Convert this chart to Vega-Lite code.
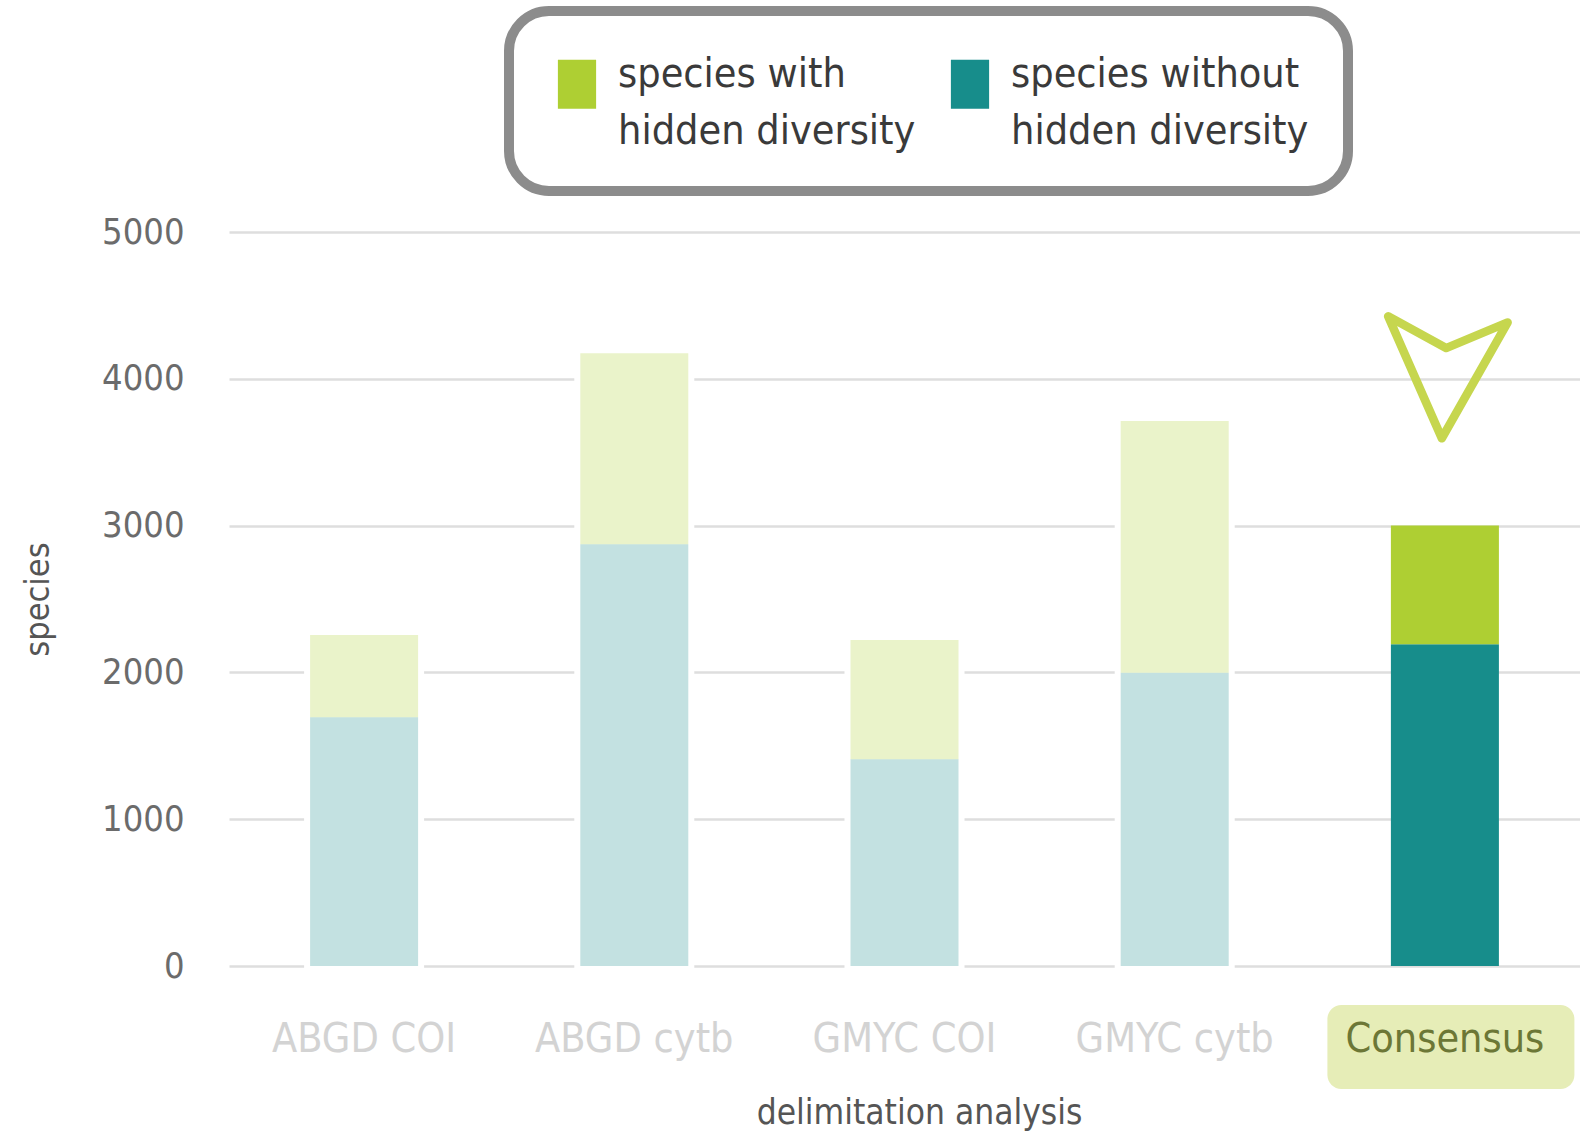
{
  "$schema": "https://vega.github.io/schema/vega-lite/v6.json",
  "width": 1351,
  "height": 734,
  "autosize": {"type": "none"},
  "padding": {"left": 229, "top": 232, "right": 0, "bottom": 170},
  "background": "white",
  "config": {
    "font": "DejaVu Sans Condensed, Lato, sans-serif",
    "view": {"stroke": null},
    "axis": {"domain": false, "ticks": false, "tickSize": 0},
    "axisY": {
      "grid": true,
      "gridColor": "#dedede",
      "gridWidth": 2.5,
      "tickCount": 5,
      "format": "d",
      "labelFontSize": 36,
      "labelColor": "#6b6b6b",
      "labelPadding": 45,
      "titleFontSize": 34,
      "titleColor": "#555555",
      "titleFontWeight": "normal",
      "titlePadding": 46
    },
    "axisX": {
      "grid": false,
      "labelFontSize": 41,
      "labelAngle": 0,
      "labelLimit": 400,
      "labelPadding": 85,
      "labelBaseline": "alphabetic",
      "titleFontSize": 35,
      "titleColor": "#555555",
      "titleFontWeight": "normal",
      "titleBaseline": "alphabetic",
      "titlePadding": 64,
      "titleX": 690
    }
  },
  "datasets": {
    "counts": [
      {"method": "ABGD COI", "group": "species without hidden diversity", "count": 1694},
      {"method": "ABGD COI", "group": "species with hidden diversity", "count": 561},
      {"method": "ABGD cytb", "group": "species without hidden diversity", "count": 2873},
      {"method": "ABGD cytb", "group": "species with hidden diversity", "count": 1301},
      {"method": "GMYC COI", "group": "species without hidden diversity", "count": 1408},
      {"method": "GMYC COI", "group": "species with hidden diversity", "count": 813},
      {"method": "GMYC cytb", "group": "species without hidden diversity", "count": 1998},
      {"method": "GMYC cytb", "group": "species with hidden diversity", "count": 1715},
      {"method": "Consensus", "group": "species without hidden diversity", "count": 2191},
      {"method": "Consensus", "group": "species with hidden diversity", "count": 809}
    ],
    "highlight": [{"method": "Consensus"}]
  },
  "encoding": {
    "x": {
      "field": "method",
      "type": "nominal",
      "scale": {
        "domain": ["ABGD COI", "ABGD cytb", "GMYC COI", "GMYC cytb", "Consensus"],
        "paddingInner": 0.6,
        "paddingOuter": 0.3
      },
      "axis": {
        "title": "delimitation analysis",
        "zindex": 1,
        "labelColor": {
          "condition": {"test": "datum.value === 'Consensus'", "value": "#6c7736"},
          "value": "#d3d3d3"
        }
      }
    }
  },
  "layer": [
    {
      "data": {"name": "counts"},
      "transform": [{"filter": "datum.method !== 'Consensus'"}],
      "mark": {"type": "bar", "color": "white", "stroke": "white", "strokeWidth": 4, "width": 116},
      "encoding": {
        "y": {
          "aggregate": "sum",
          "field": "count",
          "type": "quantitative",
          "title": "species",
          "scale": {"domain": [0, 5000], "nice": false}
        }
      }
    },
    {
      "data": {"name": "highlight"},
      "mark": {
        "type": "bar",
        "color": "#e6edb7",
        "cornerRadius": 14,
        "width": 247,
        "xOffset": 6,
        "yOffset": 39,
        "y2Offset": 123
      },
      "encoding": {
        "y": {"datum": 0, "type": "quantitative", "title": "species"},
        "y2": {"datum": 0}
      }
    },
    {
      "data": {"name": "counts"},
      "mark": {"type": "bar", "width": 108},
      "encoding": {
        "y": {
          "field": "count",
          "type": "quantitative",
          "stack": "zero",
          "title": "species"
        },
        "color": {
          "field": "group",
          "type": "nominal",
          "scale": {
            "domain": ["species with hidden diversity", "species without hidden diversity"],
            "range": ["#aecf33", "#178d8b"]
          },
          "legend": {
            "title": null,
            "orient": "none",
            "legendX": 280,
            "legendY": -221,
            "direction": "horizontal",
            "columns": 2,
            "symbolType": "M-0.78,-0.61H0.78V1.39H-0.78Z",
            "symbolSize": 2401,
            "symbolOffset": 4.5,
            "symbolStrokeWidth": 0,
            "symbolOpacity": 1,
            "labelOffset": 16.5,
            "labelFontSize": 41,
            "labelColor": "#3a3a3a",
            "labelLimit": 0,
            "labelExpr": "datum.label === 'species with hidden diversity' ? ['species with', 'hidden diversity'] : ['species without', 'hidden diversity']",
            "columnPadding": 25,
            "padding": 39,
            "strokeColor": "#8c8c8c",
            "cornerRadius": 40,
            "encode": {
              "legend": {"update": {"strokeWidth": {"value": 10}}},
              "labels": {"update": {"lineHeight": {"value": 57}}}
            }
          }
        },
        "order": {"field": "group", "sort": "descending"},
        "opacity": {
          "condition": {"test": "datum.method === 'Consensus'", "value": 1},
          "value": 0.26
        }
      }
    },
    {
      "data": {"name": "highlight"},
      "mark": {
        "type": "point",
        "shape": "M-0.98,-1L-0.03,-0.48L0.98,-0.9L-0.1,1Z",
        "size": 14884,
        "filled": false,
        "stroke": "#c6d64e",
        "strokeWidth": 8.5,
        "strokeJoin": "round",
        "opacity": 1,
        "xOffset": 3
      },
      "encoding": {
        "y": {"datum": 4010, "type": "quantitative", "title": "species"}
      }
    }
  ]
}
